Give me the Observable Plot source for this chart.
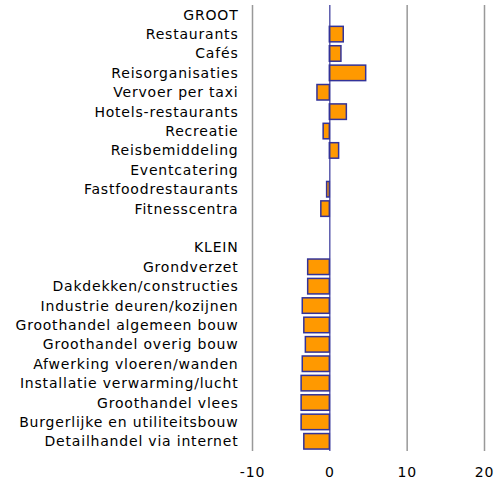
<!DOCTYPE html>
<html>
<head>
<meta charset="utf-8">
<script src="https://cdn.jsdelivr.net/npm/d3@7"></script>
<script src="https://cdn.jsdelivr.net/npm/@observablehq/plot@0.6"></script>
<style>
  html, body { margin: 0; padding: 0; background: #fff; }
  #chart svg { display: block; }
</style>
</head>
<body>
<div id="chart"></div>
<script>
const categories = [
  "GROOT", "Restaurants", "Cafés", "Reisorganisaties", "Vervoer per taxi",
  "Hotels-restaurants", "Recreatie", "Reisbemiddeling", "Eventcatering",
  "Fastfoodrestaurants", "Fitnesscentra", " ",
  "KLEIN", "Grondverzet", "Dakdekken/constructies", "Industrie deuren/kozijnen",
  "Groothandel algemeen bouw", "Groothandel overig bouw", "Afwerking vloeren/wanden",
  "Installatie verwarming/lucht", "Groothandel vlees", "Burgerlijke en utiliteitsbouw",
  "Detailhandel via internet"
];
const values = [
  null, 1.8, 1.5, 4.7, -1.6,
  2.2, -0.8, 1.2, 0,
  -0.35, -1.1, null,
  null, -2.8, -2.8, -3.5,
  -3.3, -3.1, -3.5,
  -3.65, -3.65, -3.65,
  -3.3
];
const xTicks = [-10, 0, 10, 20];

const data = categories.map((c, i) => ({category: c, value: values[i]}))
  .filter(d => d.value !== null && d.value !== 0);

const chart = Plot.plot({
  width: 498,
  height: 485,
  marginLeft: 252,
  marginRight: 14,
  marginTop: 5,
  marginBottom: 34,
  style: {fontFamily: "'DejaVu Sans', Verdana, sans-serif", fontSize: "14px", color: "#000", letterSpacing: "0.8px"},
  x: {domain: [-10, 20], ticks: xTicks, tickSize: 0, tickPadding: 16, label: null, tickFormat: d => String(d)},
  y: {domain: categories, padding: 0, round: false, tickSize: 0, tickPadding: 14, label: null},
  marks: [
    Plot.ruleX(xTicks.filter(t => t !== 0), {stroke: "#999", strokeWidth: 1.5}),
    Plot.barX(data, {x: "value", y: "category", insetTop: 1.95, insetBottom: 1.95, fill: "#ff9900", stroke: "#333399", strokeWidth: 1.5}),
    Plot.ruleX([0], {stroke: "#333399", strokeWidth: 1.2})
  ]
});
document.getElementById("chart").appendChild(chart);
</script>
</body>
</html>
